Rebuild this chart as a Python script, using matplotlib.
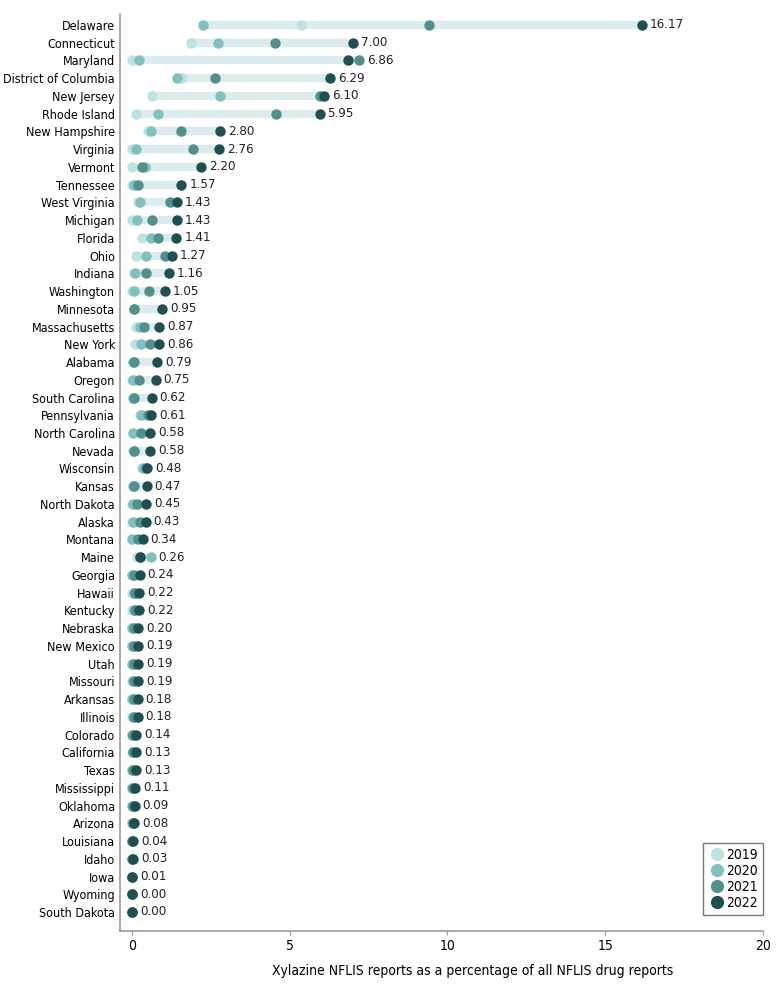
import numpy as np
import matplotlib
matplotlib.use("Agg")
import matplotlib.pyplot as plt
from matplotlib.lines import Line2D

states = [
    "Delaware", "Connecticut", "Maryland", "District of Columbia", "New Jersey",
    "Rhode Island", "New Hampshire", "Virginia", "Vermont", "Tennessee",
    "West Virginia", "Michigan", "Florida", "Ohio", "Indiana", "Washington",
    "Minnesota", "Massachusetts", "New York", "Alabama", "Oregon",
    "South Carolina", "Pennsylvania", "North Carolina", "Nevada", "Wisconsin",
    "Kansas", "North Dakota", "Alaska", "Montana", "Maine", "Georgia", "Hawaii",
    "Kentucky", "Nebraska", "New Mexico", "Utah", "Missouri", "Arkansas",
    "Illinois", "Colorado", "California", "Texas", "Mississippi", "Oklahoma",
    "Arizona", "Louisiana", "Idaho", "Iowa", "Wyoming", "South Dakota",
]
y2019 = [5.35, 1.87, 0.01, 1.58, 0.65, 0.12, 0.52, 0.00, 0.00, 0.00,
         0.20, 0.00, 0.32, 0.13, 0.05, 0.00, 0.05, 0.13, 0.10, 0.02,
         0.00, 0.02, 0.25, 0.02, 0.03, 0.33, 0.02, 0.00, 0.00, 0.00,
         0.15, 0.00, 0.00, 0.00, 0.00, 0.00, 0.00, 0.00, 0.00, 0.00,
         0.00, 0.00, 0.00, 0.00, 0.00, 0.00, 0.00, 0.00, 0.00, 0.00, 0.00]
y2020 = [2.25, 2.72, 0.22, 1.42, 2.78, 0.84, 0.60, 0.13, 0.41, 0.06,
         0.25, 0.17, 0.59, 0.46, 0.09, 0.08, 0.06, 0.25, 0.30, 0.02,
         0.02, 0.02, 0.30, 0.03, 0.07, 0.36, 0.02, 0.03, 0.02, 0.01,
         0.59, 0.00, 0.05, 0.08, 0.00, 0.00, 0.00, 0.02, 0.00, 0.02,
         0.00, 0.02, 0.00, 0.00, 0.00, 0.00, 0.00, 0.00, 0.00, 0.00, 0.00]
y2021 = [9.43, 4.53, 7.20, 2.63, 5.95, 4.58, 1.56, 1.94, 0.31, 0.18,
         1.20, 0.62, 0.81, 1.04, 0.43, 0.55, 0.06, 0.38, 0.57, 0.05,
         0.22, 0.05, 0.50, 0.30, 0.07, 0.44, 0.05, 0.17, 0.25, 0.20,
         0.24, 0.05, 0.10, 0.10, 0.05, 0.05, 0.06, 0.06, 0.05, 0.05,
         0.03, 0.04, 0.04, 0.03, 0.03, 0.03, 0.00, 0.00, 0.00, 0.00, 0.00]
y2022 = [16.17, 7.00, 6.86, 6.29, 6.10, 5.95, 2.80, 2.76, 2.20, 1.57,
         1.43, 1.43, 1.41, 1.27, 1.16, 1.05, 0.95, 0.87, 0.86, 0.79,
         0.75, 0.62, 0.61, 0.58, 0.58, 0.48, 0.47, 0.45, 0.43, 0.34,
         0.26, 0.24, 0.22, 0.22, 0.20, 0.19, 0.19, 0.19, 0.18, 0.18,
         0.14, 0.13, 0.13, 0.11, 0.09, 0.08, 0.04, 0.03, 0.01, 0.00, 0.00]

years = ["2019", "2020", "2021", "2022"]
colors = ["#bde3e1", "#80c1c0", "#52908e", "#1f4f50"]
bar_color = "#dcecec"

font = ["DejaVu Sans Condensed", "DejaVu Sans"]
plt.rcParams["font.family"] = font
plt.rcParams["font.stretch"] = "condensed"

data = np.array([y2019, y2020, y2021, y2022])
ypos = np.arange(len(states))

fig = plt.figure(figsize=(7.8, 9.84), dpi=100)
ax = fig.add_axes([0.1538, 0.0539, 0.8244, 0.9319])

# light band from the lowest to the highest year, then one dot per year
lo = data.min(axis=0)
hi = data.max(axis=0)
ax.hlines(ypos, lo, hi, color=bar_color, linewidth=6, zorder=1)

for vals, c in zip(data, colors):
    ax.plot(vals, ypos, "o", color=c, markersize=7.5, markeredgewidth=0, zorder=2)

for y, v, m in zip(ypos, y2022, hi):
    ax.text(m + 0.25, y, f"{v:.2f}", va="center", ha="left", fontsize=9.5,
            color="#222222")

ax.set_yticks(ypos)
ax.set_yticklabels(states, fontsize=9)
ax.set_ylim(len(states) - 1 + 1.07, -0.62)
ax.set_xlim(-0.38, 20)
ax.set_xticks([0, 5, 10, 15, 20])
ax.tick_params(axis="y", length=0, pad=3.5)
ax.tick_params(axis="x", length=3, color="#999999", labelsize=10, pad=3)
ax.set_xlabel("Xylazine NFLIS reports as a percentage of all NFLIS drug reports",
              fontsize=10)
ax.xaxis.set_label_coords(0.549, -0.036)

for side in ["top", "right"]:
    ax.spines[side].set_visible(False)
for side in ["left", "bottom"]:
    ax.spines[side].set_color("#999999")
    ax.spines[side].set_linewidth(1.2)

handles = [Line2D([], [], marker="o", linestyle="", color=c, markersize=9.5,
                  markeredgewidth=0) for c in colors]
leg = ax.legend(handles, years, loc="lower right", frameon=True, fancybox=False,
                edgecolor="#555555", handletextpad=0.1, borderpad=0.35,
                labelspacing=0.15, handlelength=1.2, fontsize=10,
                borderaxespad=0, bbox_to_anchor=(1.0, 0.0175))
leg.get_frame().set_linewidth(1.0)

fig.savefig("out.png", dpi=100)
